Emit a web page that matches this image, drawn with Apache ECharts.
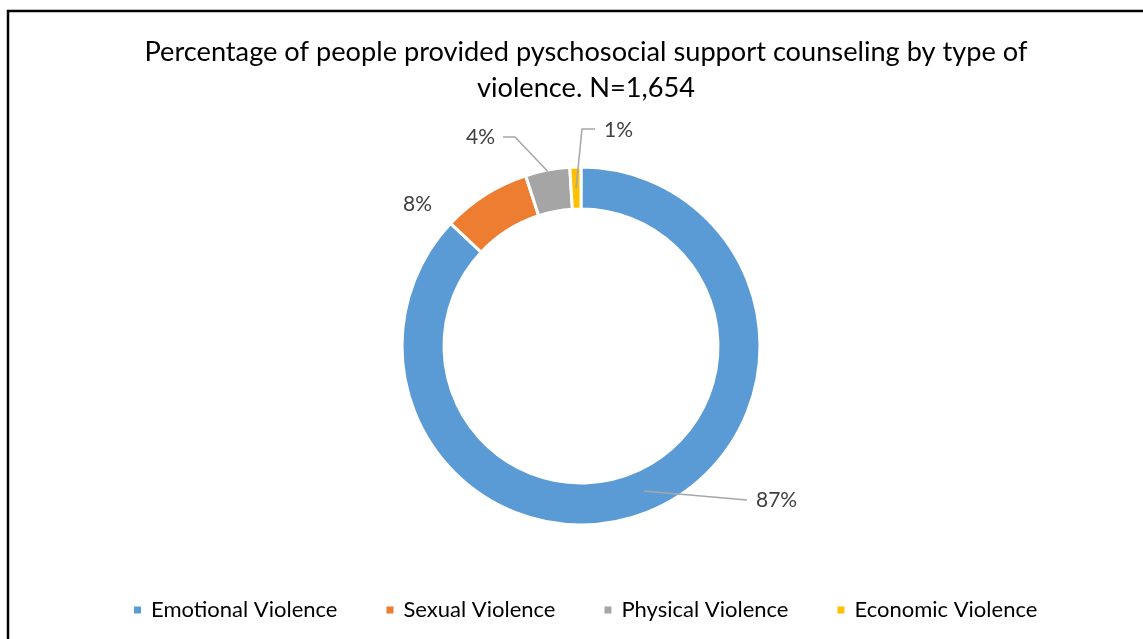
<!DOCTYPE html>
<html>
<head>
<meta charset="utf-8">
<script src="https://cdn.jsdelivr.net/npm/echarts@6/dist/echarts.min.js"></script>
<style>
html,body{margin:0;padding:0;background:#fff;}
#chart{width:1143px;height:639px;}
</style>
</head>
<body>
<div id="chart"></div>
<script>
const categories = ['Emotional Violence', 'Sexual Violence', 'Physical Violence', 'Economic Violence'];
const values = [87, 8, 4, 1];
const colors = ['#5B9BD5', '#ED7D31', '#A5A5A5', '#FFC000'];
const titleText = 'Percentage of people provided pyschosocial support counseling by type of\nviolence. N=1,654';

// layout (not data): pie geometry and label placement offsets relative to the pie centre
const CX = 581, CY = 346, R_IN = 137, R_OUT = 179;
const labelPlacement = [
  {anchorR: 158, label: [175, 154], align: 'left',  line: [[166, 154]]},
  {anchorR: 0,   label: [-149, -142], align: 'right', line: null},
  {anchorR: 178, label: [-86, -209], align: 'right', line: [[-66, -209], [-78, -209]]},
  {anchorR: 158, label: [23, -216],  align: 'left',  line: [[1, -217], [14, -217]]}
];

const total = values.reduce((a, b) => a + b, 0);
function midAngle(i) {
  let before = 0;
  for (let k = 0; k < i; k++) before += values[k];
  const mid = before + values[i] / 2;
  return (90 - mid / total * 360) * Math.PI / 180;
}

function labelLayout(params) {
  const i = params.dataIndex;
  const lp = labelPlacement[i];
  const a = midAngle(i);
  const anchor = [CX + lp.anchorR * Math.cos(a), CY - lp.anchorR * Math.sin(a)];
  const out = {x: CX + lp.label[0], y: CY + lp.label[1], align: lp.align, verticalAlign: 'middle'};
  if (lp.line) {
    const pts = [anchor].concat(lp.line.map(p => [CX + p[0], CY + p[1]]));
    if (pts.length === 2) pts.push(pts[1].slice());
    out.labelLinePoints = pts;
  } else {
    out.labelLinePoints = [anchor, anchor.slice(), anchor.slice()];
  }
  return out;
}

const chart = echarts.init(document.getElementById('chart'), null, {renderer: 'canvas'});
chart.setOption({
  animation: false,
  backgroundColor: '#ffffff',
  graphic: [{
    type: 'rect',
    shape: {x: 8, y: 11, width: 1160, height: 660},
    style: {fill: 'none', stroke: '#000', lineWidth: 2.5}
  }],
  title: {
    text: titleText,
    left: 581, top: 29, textAlign: 'center',
    textStyle: {fontFamily: 'Lato', fontSize: 27.2, fontWeight: 'normal', color: '#000', lineHeight: 36}
  },
  legend: {
    top: 594, left: 127,
    itemWidth: 9, itemHeight: 9, itemGap: 47,
    icon: 'rect',
    textStyle: {fontFamily: 'Lato', fontSize: 22, color: '#000', padding: [0, 0, 0, 4]},
    data: categories
  },
  series: [{
    // the ring itself
    type: 'pie',
    z: 2,
    center: [CX, CY],
    radius: [R_IN, R_OUT],
    startAngle: 90,
    clockwise: true,
    itemStyle: {borderColor: '#fff', borderWidth: 3},
    label: {show: false},
    labelLine: {show: false},
    data: categories.map((c, i) => ({name: c, value: values[i], itemStyle: {color: colors[i]}}))
  }, {
    // same slices, invisible, carrying the data labels so the leader lines sit above the ring
    type: 'pie',
    z: 5,
    silent: true,
    center: [CX, CY],
    radius: [R_IN, R_OUT],
    startAngle: 90,
    clockwise: true,
    itemStyle: {color: 'rgba(0,0,0,0)', borderWidth: 0},
    label: {
      show: true,
      position: 'outside',
      formatter: p => Math.round(p.percent) + '%',
      fontFamily: 'Lato', fontSize: 21, color: '#404040'
    },
    labelLine: {show: true, length: 20, length2: 20, lineStyle: {color: '#A6A6A6', width: 1.5}},
    labelLayout: labelLayout,
    data: categories.map((c, i) => ({
      name: c, value: values[i],
      labelLine: {show: labelPlacement[i].line !== null}
    }))
  }]
});
</script>
</body>
</html>
